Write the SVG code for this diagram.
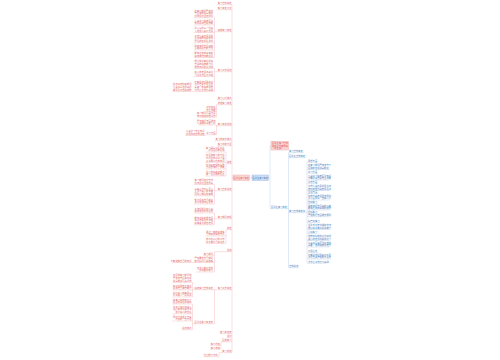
<svg xmlns="http://www.w3.org/2000/svg" width="500" height="360" viewBox="0 0 500 360">
<style>
text{font-family:"Noto Sans CJK SC","Noto Sans",sans-serif;font-size:2.3px}
.l text{fill:#e46a6a;text-anchor:end}
.r text{fill:#4a80c0}
.l path{stroke:#f2b0b0;stroke-width:.4;fill:none}
.r path{stroke:#b0cae8;stroke-width:.4;fill:none}
.cl{stroke:#f2b0b0;stroke-width:.4;fill:none}
.cr{stroke:#b0cae8;stroke-width:.4;fill:none}
.boxr{fill:#f9d6d6;stroke:#eba3a3;stroke-width:.4}
.boxb{fill:#cfe0f5;stroke:#8fb1de;stroke-width:.4}
.bt{font-size:2.2px;text-anchor:middle}
</style>
<rect width="500" height="360" fill="#fff"/>
<g id="connectors">
<path class="cl" d="M232 4.7V352.7M232 177.75H233M249.5 177.75H252
M214.5 17.8V57.5M213 17.8H214.5M213 25H214.5M213 32.5H214.5M213 42.8H214.5M213 50H214.5M213 57.5H214.5M214.5 31.7H217.1
M214.5 68.3V91.6M213 68.3H214.5M213 76.5H214.5M213 91.6H214.5M214.5 71.7H217.1M191.5 91.6H193.8
M216.5 104.7V117.3M215.5 108.2H216.5M215.5 111.5H216.5M215.5 117.3H216.5M216.5 104.7H217.1
M216.5 125V134.7M215.5 125H216.5M215.5 134.7H216.5M216.5 125.7H217.1M204.5 135.5L205.9 134.7
M226 152V176M224.5 152H226M224.5 162.3H226M224.5 169H226M224.5 176H226M226 163.7H226.7
M214.5 184.5V204M213 184.5H214.5M213 195.8H214.5M213 204H214.5M214.5 190.7H217.1
M214.5 213V224.8M213 213H214.5M213 224.8H214.5M214.5 218.7H217.1
M226 229.7V243.5M224.5 236H226M224.5 243.5H226M226 229.7H226.7
M214.5 251.7V272M213 255.7H214.5M213 262.5H214.5M213 272H214.5M214.5 251.7H226.7M191.5 262.5H193.8
M214.5 289.7V323.7M213 289.7H217.1M213 323.7H214.5
M192.5 282.3V297M191.5 282.3H192.5M191.5 290H192.5M191.5 297H192.5M192.5 289.7H193.8
M192.5 304V329.7M191.5 304H192.5M191.5 313.8H192.5M191.5 321H192.5M191.5 329.7H192.5M192.5 323.7H193.8
M221 341.7V349.2M220 345.2H221M220 349.2H221M221 341.7H221.9
M219 352.7V356.7M217.5 356.7H219M219 352.7H221.9"/>
<path class="cr" d="M268.5 177.75H270M270 145.75V208.7M270 145.75H271M287.8 208.7H288.5M288.5 152.7V267.7M305.8 212.7H307M307 162.2V263.2"/>
</g>
<g id="root-left"><rect class="boxr" x="233" y="175" width="16.5" height="5.5"/><text class="bt" x="241.25" y="178.6" fill="#e25b5b">医学生实习鉴定</text></g>
<g id="root-right"><rect class="boxb" x="252" y="175" width="16.5" height="5.5"/><text class="bt" x="260.25" y="178.6" fill="#3d73b8">医学生实习鉴定</text></g>
<g id="summary"><rect class="boxr" x="271" y="141.5" width="17.5" height="8.5"/><text x="272" y="144.2" font-size="2.2" fill="#e25b5b">医学生实习自我</text><text x="272" y="146.7" font-size="2.2" fill="#e25b5b">鉴定范文精选篇</text><text x="272" y="149.2" font-size="2.2" fill="#e25b5b">（共五篇）</text></g>
<g class="l">
<g id="n1"><text x="231.5" y="4">实习自我鉴定</text><path d="M217.1 4.7H232"/></g>
<g id="n2"><text x="231.5" y="9">实习鉴定范文</text><path d="M217.1 9.7H232"/></g>
<g id="n3"><text x="231.5" y="31">临床实习鉴定</text><path d="M217.1 31.7H232"/></g>
<g id="n3a"><text x="213" y="11.5">在实习期间严格遵</text><text x="213" y="14.3">守医院的规章制度</text><text x="213" y="17.1">尊敬师长团结同学</text><path d="M193.8 17.8H213"/></g>
<g id="n3b"><text x="213" y="21.5">认真学习临床医学</text><text x="213" y="24.3">知识提高自身技能</text><path d="M193.8 25H213"/></g>
<g id="n3c"><text x="213" y="29">关心爱护每一位病</text><text x="213" y="31.8">人态度认真又负责</text><path d="M193.8 32.5H213"/></g>
<g id="n3d"><text x="213" y="36.5">工作认真负责积极</text><text x="213" y="39.3">主动完成带教老师</text><text x="213" y="42.1">交给的各项任务等</text><path d="M193.8 42.8H213"/></g>
<g id="n3e"><text x="213" y="46.5">熟练掌握常见病的</text><text x="213" y="49.3">诊断和治疗的方法</text><path d="M193.8 50H213"/></g>
<g id="n3f"><text x="213" y="54">能独立完成基本的</text><text x="213" y="56.8">临床操作技能项目</text><path d="M193.8 57.5H213"/></g>
<g id="n4"><text x="231.5" y="71">实习工作总结</text><path d="M217.1 71.7H232"/></g>
<g id="n4a"><text x="213" y="62">理论联系实际提高</text><text x="213" y="64.8">自身的临床能力及</text><text x="213" y="67.6">培养良好职业道德</text><path d="M193.8 68.3H213"/></g>
<g id="n4b"><text x="213" y="73">虚心向老师请教学</text><text x="213" y="75.8">习注重与医患沟通</text><path d="M193.8 76.5H213"/></g>
<g id="n4c"><text x="213" y="82.5">不断总结经验教训</text><text x="213" y="85.3">弥补自身不足之处</text><text x="213" y="88.1">具备一定临床思维</text><text x="213" y="90.9">为今后工作打基础</text><path d="M193.8 91.6H213"/></g>
<g id="n4d"><text x="191.5" y="85.3">在各科室轮转期间</text><text x="191.5" y="88.1">认真书写各项病历</text><text x="191.5" y="90.9">做到及时准确完整</text><path d="M172.3 91.6H191.5"/></g>
<g id="n5"><text x="231.5" y="99">实习心得体会</text><path d="M217.1 99.7H232"/></g>
<g id="n6"><text x="231.5" y="104">护理实习鉴定</text><path d="M217.1 104.7H232"/></g>
<g id="n6a"><text x="215.5" y="107.5">工作态度</text><path d="M205.9 108.2H215.5"/></g>
<g id="n6b"><text x="215.5" y="110.8">专业技能</text><path d="M205.9 111.5H215.5"/></g>
<g id="n6c"><text x="215.5" y="113.8">实习期间认真负责</text><text x="215.5" y="116.6">按时完成护理工作</text><path d="M198.7 117.3H215.5"/></g>
<g id="n7"><text x="231.5" y="125">实习鉴定总结</text><path d="M217.1 125.7H232"/></g>
<g id="n7a"><text x="215.5" y="121.5">严格执行无菌操作</text><text x="215.5" y="124.3">认真做好三查七对</text><path d="M198.7 125H215.5"/></g>
<g id="n7b"><text x="215.5" y="134">学习方面</text><path d="M205.9 134.7H215.5"/></g>
<g id="n7c"><text x="204.5" y="132">认真学习专业知识</text><text x="204.5" y="134.8">积极参加各种讲座</text><path d="M185.3 135.5H204.5"/></g>
<g id="n8"><text x="231.5" y="140">实习收获与体会</text><path d="M214.7 140.7H232"/></g>
<g id="n9"><text x="231.5" y="145">实习中的不足</text><path d="M217.1 145.7H232"/></g>
<g id="n10"><text x="231.5" y="163">鉴定</text><path d="M226.7 163.7H232"/></g>
<g id="n10a"><text x="224.5" y="148.5">实习是每个医学生</text><text x="224.5" y="151.3">必须经历的阶段</text><path d="M205.3 152H224.5"/></g>
<g id="n10b"><text x="224.5" y="156">在医院实习的这段</text><text x="224.5" y="158.8">时间里我学到了很</text><text x="224.5" y="161.6">多书本以外的知识</text><path d="M205.3 162.3H224.5"/></g>
<g id="n10c"><text x="224.5" y="165.5">在带教老师的指导</text><text x="224.5" y="168.3">下逐步掌握了技能</text><path d="M205.3 169H224.5"/></g>
<g id="n10d"><text x="224.5" y="172.5">今后我将继续努力</text><text x="224.5" y="175.3">做一名合格的医生</text><path d="M205.3 176H224.5"/></g>
<g id="n11"><text x="231.5" y="190">实习自我总结</text><path d="M217.1 190.7H232"/></g>
<g id="n11a"><text x="213" y="181">实习期间遵纪守法</text><text x="213" y="183.8">尊敬师长团结同事</text><path d="M193.8 184.5H213"/></g>
<g id="n11b"><text x="213" y="189.5">以病人为中心全心</text><text x="213" y="192.3">全意为病人服务做</text><text x="213" y="195.1">到耐心细致热情周</text><path d="M193.8 195.8H213"/></g>
<g id="n11c"><text x="213" y="200.5">努力提高自己的业</text><text x="213" y="203.3">务水平和综合素质</text><path d="M193.8 204H213"/></g>
<g id="n12"><text x="231.5" y="218">实习期间表现</text><path d="M217.1 218.7H232"/></g>
<g id="n12a"><text x="213" y="209.5">工作积极主动认真</text><text x="213" y="212.3">完成各项工作任务</text><path d="M193.8 213H213"/></g>
<g id="n12b"><text x="213" y="218.5">能够正确处理常见</text><text x="213" y="221.3">病多发病及时发现</text><text x="213" y="224.1">病情变化报告老师</text><path d="M193.8 224.8H213"/></g>
<g id="n13"><text x="231.5" y="229">鉴定</text><path d="M226.7 229.7H232"/></g>
<g id="n13a"><text x="224.5" y="232.5">通过一年的临床实</text><text x="224.5" y="235.3">习我的收获非常大</text><path d="M205.3 236H224.5"/></g>
<g id="n13b"><text x="224.5" y="240">我会在以后的工作</text><text x="224.5" y="242.8">中不断学习和进步</text><path d="M205.3 243.5H224.5"/></g>
<g id="n14"><text x="231.5" y="251">总结</text><path d="M226.7 251.7H232"/></g>
<g id="n14a"><text x="213" y="255">实习期间</text><path d="M203.4 255.7H213"/></g>
<g id="n14b"><text x="213" y="259">严格要求自己做到</text><text x="213" y="261.8">勤学好问认真踏实</text><path d="M193.8 262.5H213"/></g>
<g id="n14c"><text x="191.5" y="261.8">不断充实自己的知识</text><path d="M172.3 262.5H191.5"/></g>
<g id="n14d"><text x="213" y="268.5">在今后的工作中</text><text x="213" y="271.3">我将更加努力</text><path d="M196.2 272H213"/></g>
<g id="n15"><text x="231.5" y="289">实习工作鉴定</text><path d="M217.1 289.7H232"/></g>
<g id="n15a"><text x="213" y="289">临床实习自我鉴定</text><path d="M193.8 289.7H213"/></g>
<g id="n15b"><text x="191.5" y="276">在医院实习期间我</text><text x="191.5" y="278.8">严格遵守医院各项</text><text x="191.5" y="281.6">规章制度认真工作</text><path d="M172.3 282.3H191.5"/></g>
<g id="n15c"><text x="191.5" y="286.5">刻苦钻研专业知识</text><text x="191.5" y="289.3">提高自己操作能力</text><path d="M172.3 290H191.5"/></g>
<g id="n15d"><text x="191.5" y="293.5">对待病人热情耐心</text><text x="191.5" y="296.3">得到病人一致好评</text><path d="M172.3 297H191.5"/></g>
<g id="n15e"><text x="213" y="323">医学生实习鉴定表</text><path d="M193.8 323.7H213"/></g>
<g id="n15f"><text x="191.5" y="300.5">在实习中我懂得了</text><text x="191.5" y="303.3">医生的责任和使命</text><path d="M172.3 304H191.5"/></g>
<g id="n15g"><text x="191.5" y="307.5">学会了如何与病人</text><text x="191.5" y="310.3">进行有效沟通交流</text><text x="191.5" y="313.1">取得病人的信任</text><path d="M172.3 313.8H191.5"/></g>
<g id="n15h"><text x="191.5" y="317.5">同时也发现了自身</text><text x="191.5" y="320.3">存在的一些不足</text><path d="M172.3 321H191.5"/></g>
<g id="n15i"><text x="191.5" y="329">总结体会</text><path d="M181.9 329.7H191.5"/></g>
<g id="n16"><text x="231.5" y="333">实习鉴定表</text><path d="M219.5 333.7H232"/></g>
<g id="n17"><text x="231.5" y="337">评价</text><path d="M226.7 337.7H232"/></g>
<g id="n18"><text x="231.5" y="341">医院实习</text><path d="M221.9 341.7H232"/></g>
<g id="n18a"><text x="220" y="344.5">实习内容</text><path d="M210.4 345.2H220"/></g>
<g id="n18b"><text x="220" y="348.5">实习收获</text><path d="M210.4 349.2H220"/></g>
<g id="n19"><text x="231.5" y="352">实习总结</text><path d="M221.9 352.7H232"/></g>
<g id="n19a"><text x="217.5" y="356">今后努力方向</text><path d="M203.1 356.7H217.5"/></g>
</g>
<g class="r">
<g id="m1"><text x="271" y="208">医学生实习鉴定</text><path d="M270 208.7H287.8"/></g>
<g id="m2"><text x="289" y="152">实习自我鉴定</text><path d="M288.5 152.7H303.4"/></g>
<g id="m3"><text x="289" y="157">医学生自我鉴定</text><path d="M288.5 157.7H305.8"/></g>
<g id="m4"><text x="289" y="212">实习自我鉴定书</text><path d="M288.5 212.7H305.8"/></g>
<g id="m5"><text x="289" y="267">自我总结</text><path d="M288.5 267.7H298.6"/></g>
<g id="k1"><text x="308" y="161.5">思想方面</text><path d="M307 162.2H317.6"/></g>
<g id="k2"><text x="308" y="166">在实习期间严格遵守了</text><text x="308" y="168.8">医院的各项规章制度</text><path d="M307 169.5H329.6"/></g>
<g id="k3"><text x="308" y="172.5">学习方面</text><path d="M307 173.2H317.6"/></g>
<g id="k4"><text x="308" y="176.5">认真学习临床医学知识</text><text x="308" y="179.3">不断提高自身专业技能</text><path d="M307 180H329.6"/></g>
<g id="k5"><text x="308" y="183">工作方面</text><path d="M307 183.7H317.6"/></g>
<g id="k6"><text x="308" y="187">工作认真负责积极主动</text><text x="308" y="189.8">按时完成带教老师任务</text><path d="M307 190.5H329.6"/></g>
<g id="k7"><text x="308" y="193">生活方面</text><path d="M307 193.7H317.6"/></g>
<g id="k8"><text x="308" y="196.5">尊敬带教老师团结同学</text><text x="308" y="199.3">关心爱护每一位病人们</text><path d="M307 200H329.6"/></g>
<g id="k9"><text x="308" y="203">内科实习</text><path d="M307 203.7H317.6"/></g>
<g id="k10"><text x="308" y="206.5">熟练掌握常见病的诊断</text><text x="308" y="209.3">能独立完成基本的操作</text><path d="M307 210H329.6"/></g>
<g id="k11"><text x="308" y="212.5">外科实习</text><path d="M307 213.2H317.6"/></g>
<g id="k12"><text x="308" y="216">严格执行无菌操作原则</text><path d="M307 216.7H329.6"/></g>
<g id="k13"><text x="308" y="222">妇产科实习</text><path d="M307 222.7H320"/></g>
<g id="k14"><text x="308" y="226">注重与患者沟通和交流</text><text x="308" y="228.8">理论联系实际提高能力</text><path d="M307 229.5H329.6"/></g>
<g id="k15"><text x="308" y="233">儿科实习</text><path d="M307 233.7H317.6"/></g>
<g id="k16"><text x="308" y="237">培养良好的职业道德观</text><text x="308" y="239.8">虚心向老师请教和学习</text><path d="M307 240.5H329.6"/></g>
<g id="k17"><text x="308" y="243.5">认真书写病历及时准确</text><text x="308" y="246.3">具备一定的临床思维力</text><path d="M307 247H329.6"/></g>
<g id="k18"><text x="308" y="252">不足之处</text><path d="M307 252.7H317.6"/></g>
<g id="k19"><text x="308" y="255.5">不断总结经验教训不足</text><text x="308" y="258.3">弥补自身存在的不足处</text><path d="M307 259H329.6"/></g>
<g id="k20"><text x="308" y="262.5">为今后工作打下基础</text><path d="M307 263.2H327.2"/></g>
</g>
</svg>
